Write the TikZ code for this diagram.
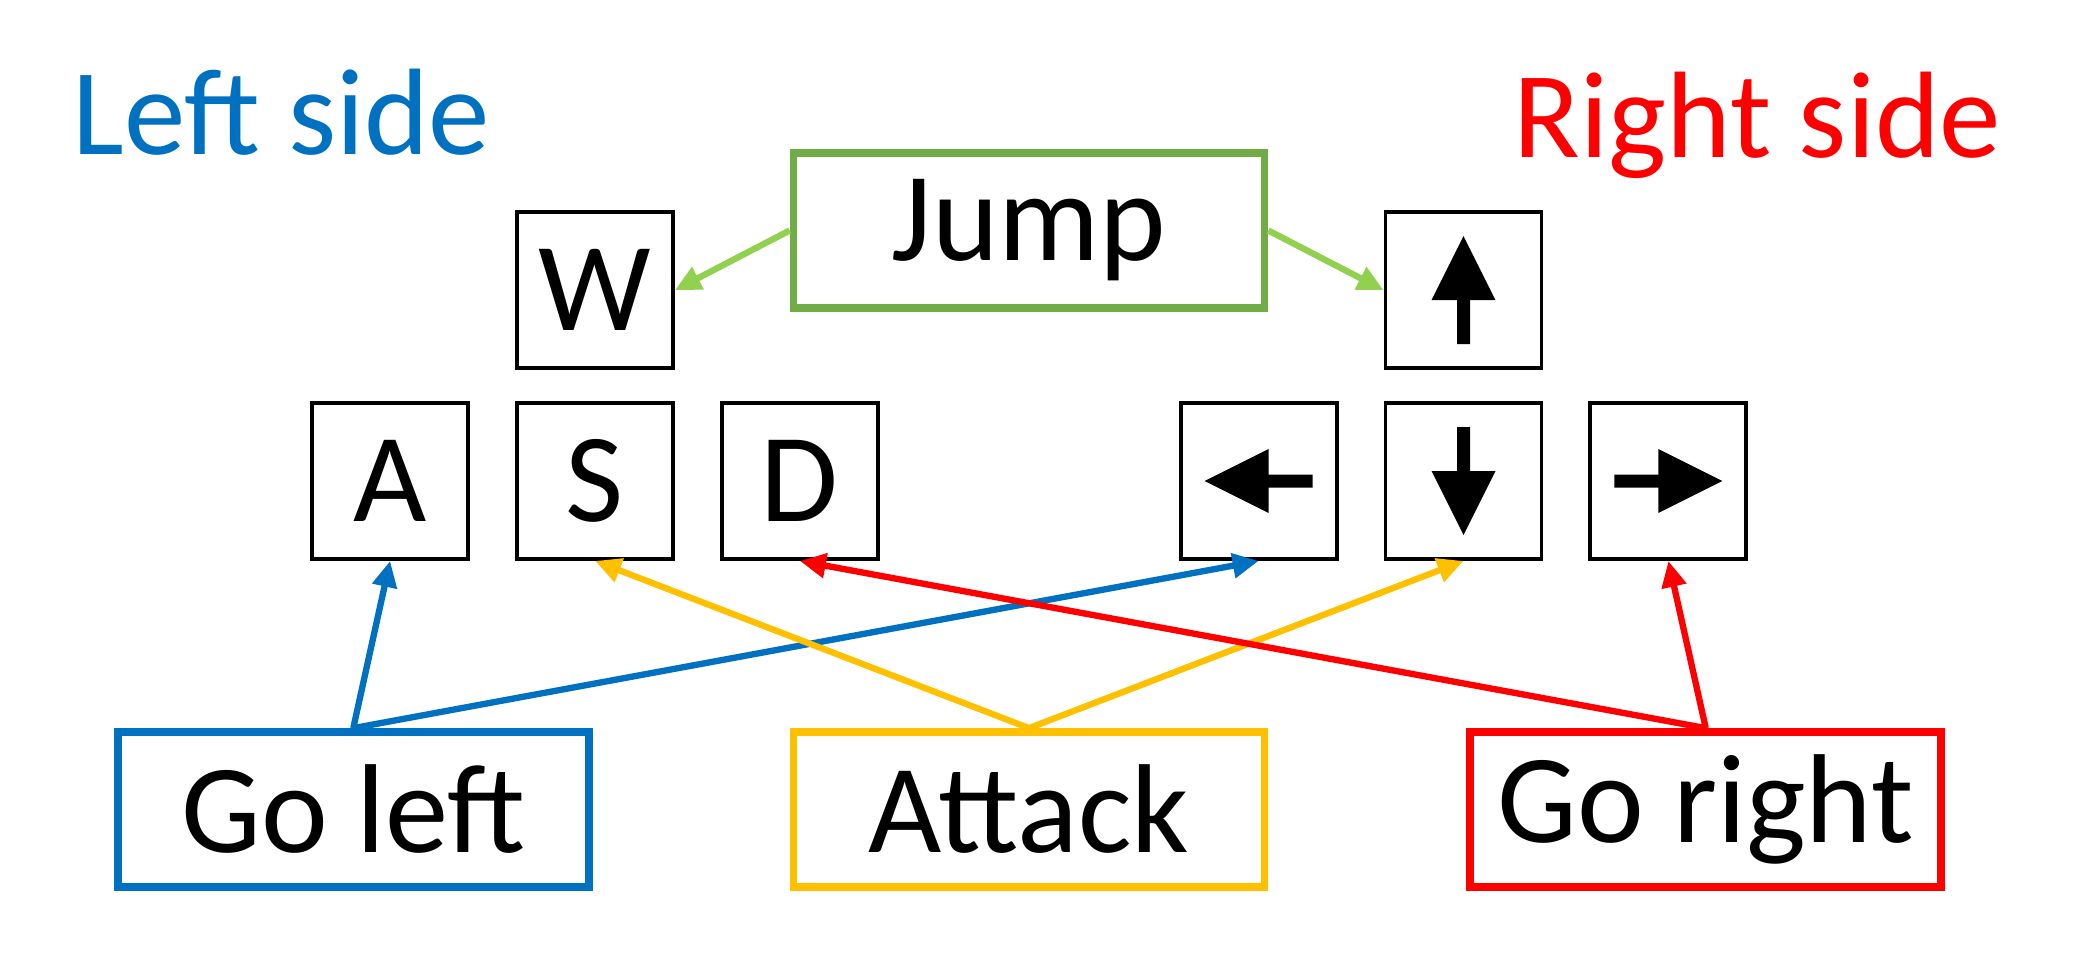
\documentclass[tikz,border=0pt]{standalone}
\usepackage{fontspec}
\setmainfont{Carlito}
\usetikzlibrary{arrows.meta,positioning}
\definecolor{myblue}{HTML}{0070C0}
\definecolor{myyellow}{HTML}{FFC000}
\definecolor{myred}{HTML}{FF0000}
\definecolor{mygreen}{HTML}{70AD47}
\definecolor{mylgreen}{HTML}{92D050}

\begin{document}
\begin{tikzpicture}[
 node distance=3.1mm and 4.5mm,
 k/.style={draw,line width=1.1pt,minimum width=1.56cm,minimum height=1.56cm,inner sep=0pt,font=\fontsize{36}{43}\selectfont},
 b/.style={draw,line width=2.2pt,minimum width=4.71cm,minimum height=1.55cm,inner sep=0pt,font=\fontsize{36}{43}\selectfont},
 t/.style={inner sep=0pt,font=\fontsize{35}{42}\selectfont},
 a/.style={-{Triangle[length=2.6mm,width=2.4mm]},line width=1.8pt},
 keyarrow/.pic={\fill (-0.54,-0.065) -- (-0.10,-0.065) -- (-0.10,-0.32) -- (0.54,0) -- (-0.10,0.32) -- (-0.10,0.065) -- (-0.54,0.065) -- cycle;}
]
\useasboundingbox (0,0) rectangle (20.79,9.60);
% titles
\node[t,anchor=base west,text=myblue] (lside) at (0.72,8.06) {Left side};
\node[t,anchor=base east,text=myred] (rside) at (20.02,8.03) {Right side};
% keys
\node[k] (s) at (5.95,4.79) {S};
\node[k,left=of s] (a) {A};
\node[k,right=of s] (d) {D};
\node[k,above=of s] (w) {W};
\node[k] (down) at (14.635,4.79) {};
\node[k,left=of down] (left) {};
\node[k,right=of down] (right) {};
\node[k,above=of down] (up) {};
\pic[rotate=90] at (up) {keyarrow};
\pic[rotate=-90] at (down) {keyarrow};
\pic[rotate=180] at (left) {keyarrow};
\pic at (right) {keyarrow};
% actions
\node[b,draw=mygreen] (jump) at (10.29,7.295) {Jump};
\node[b,draw=myyellow] (attack) at (10.29,1.505) {Attack};
\node[b,draw=myblue,left=1.97cm of attack] (goleft) {Go left};
\node[b,draw=myred,right=1.98cm of attack] (goright) {Go right};
% mapping
\draw[a,mylgreen] (jump.west) -- (w.east);
\draw[a,mylgreen] (jump.east) -- (up.west);
\draw[a,myblue] (goleft.north) -- (a.south);
\draw[a,myblue] (goleft.north) -- (left.south);
\draw[a,myyellow] (attack.north) -- (s.south);
\draw[a,myyellow] (attack.north) -- (down.south);
\draw[a,myred] (goright.north) -- (d.south);
\draw[a,myred] (goright.north) -- (right.south);
\end{tikzpicture}
\end{document}
